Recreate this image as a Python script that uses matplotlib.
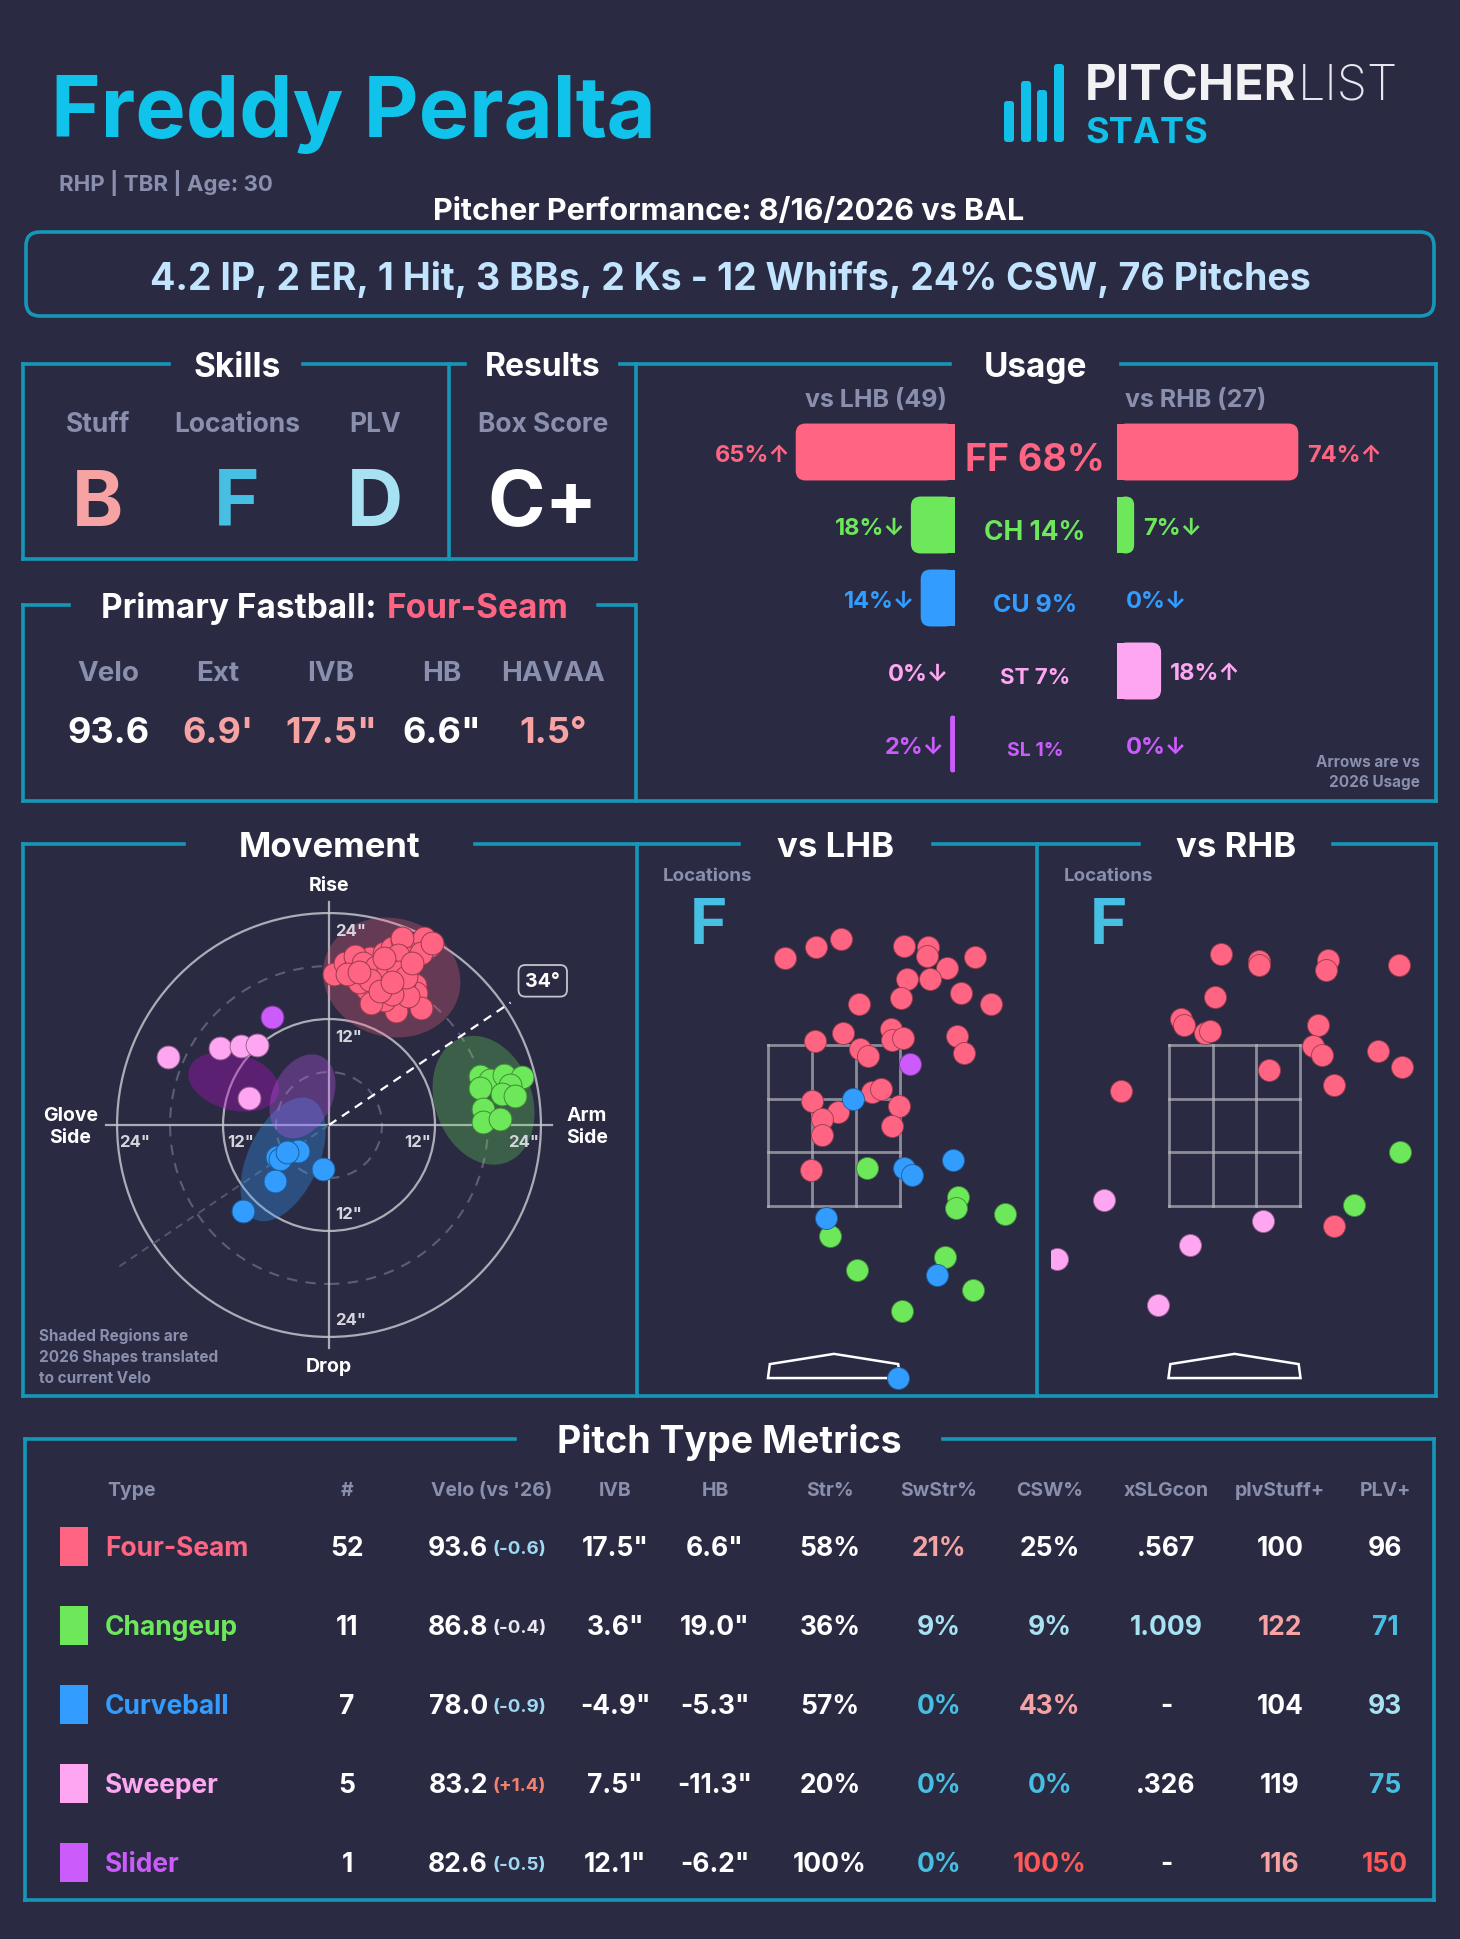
import matplotlib
matplotlib.use('Agg')
import matplotlib.pyplot as plt
from matplotlib.patches import Ellipse, FancyBboxPatch, Rectangle, Polygon, Circle
from matplotlib.colors import to_rgb
import numpy as np

W, H = 1460, 1940
BG = '#2a2b43'
FRAME = '#1697b8'
GRAY = '#8a8fad'
WHITE = '#ffffff'
PINK = '#f7a3a3'
CYAN = '#46bfe2'
LCYAN = '#a8e2f2'
RED = '#ff5858'
plt.rcParams['font.family'] = ['Inter', 'DejaVu Sans']

# ---- header / grades
player = 'Freddy Peralta'
bio = 'RHP | TBR | Age: 30'
game_title = 'Pitcher Performance: 8/16/2026 vs BAL'
game_line = '4.2 IP, 2 ER, 1 Hit, 3 BBs, 2 Ks - 12 Whiffs, 24% CSW, 76 Pitches'
skill_labels = ['Stuff', 'Locations', 'PLV']
skill_grades = ['B', 'F', 'D']
box_grade = 'C+'
fb_labels = ['Velo', 'Ext', 'IVB', 'HB', 'HAVAA']
fb_values = ['93.6', "6.9'", '17.5"', '6.6"', '1.5°']

# ---- pitch mix
pitch_codes = ['FF', 'CH', 'CU', 'ST', 'SL']
pitch_names = ['Four-Seam', 'Changeup', 'Curveball', 'Sweeper', 'Slider']
pitch_colors = ['#ff6482', '#6de85a', '#339cff', '#ffa6f2', '#cb5cfb']
usage_all = [68, 14, 9, 7, 1]
usage_lhb = [65, 18, 14, 0, 2]
usage_rhb = [74, 7, 0, 18, 0]
arrow_lhb = ['↑', '↓', '↓', '↓', '↓']
arrow_rhb = ['↑', '↓', '↓', '↑', '↓']
n_lhb, n_rhb = 49, 27
loc_grade_lhb, loc_grade_rhb = 'F', 'F'
arm_angle = 34

# ---- movement (inches): hb, ivb
ff_hb = [0.6, 1.8, 3.0, 3.4, 4.3, 4.6, 6.0, 6.2, 7.1, 8.3, 9.0, 9.9, 11.3, 10.8, 8.3, 7.1, 8.0, 9.0,
         9.7, 9.9, 10.4, 7.6, 6.2, 5.0, 4.3, 3.4, 5.5, 6.9, 8.5, 7.4, 6.0, 3.0, 2.0, 9.2, 10.4, 6.4,
         4.8, 7.8, 9.0, 11.7, 3.9, 7.1, 5.3, 6.7, 7.8, 8.7, 4.6, 5.8, 7.1, 9.4, 3.4, 6.2]
ff_ivb = [17.1, 18.3, 17.9, 16.6, 17.3, 18.9, 18.3, 19.5, 20.1, 21.0, 20.1, 19.9, 20.3, 21.2, 21.2,
          18.7, 17.9, 17.5, 15.8, 15.0, 13.3, 12.9, 14.2, 15.0, 15.4, 16.2, 16.2, 16.6, 16.2, 15.4,
          17.1, 19.1, 17.1, 18.9, 19.5, 15.4, 13.8, 19.3, 14.6, 20.6, 18.3, 14.8, 17.9, 17.7, 17.3,
          16.8, 16.4, 15.2, 16.2, 18.3, 17.3, 18.9]
ch_hb = [17.1, 18.2, 19.8, 21.9, 17.1, 20.5, 19.6, 21.1, 17.4, 17.4, 19.4]
ch_ivb = [5.5, 5.1, 5.7, 5.4, 4.2, 4.5, 3.5, 3.3, 1.8, 0.3, 0.7]
cu_hb = [-5.9, -5.5, -3.5, -0.7, -6.1, -9.7, -4.7]
cu_ivb = [-3.6, -3.8, -3.0, -5.0, -6.3, -9.7, -3.1]
st_hb = [-18.2, -12.3, -10.0, -8.1, -9.1]
st_ivb = [7.7, 8.7, 8.9, 9.1, 3.1]
sl_hb = [-6.4]
sl_ivb = [12.2]
# 2026 shapes: center hb, center ivb, width, height, angle
shape_2026 = [(7.1, 16.7, 15.7, 13.4, -15), (17.5, 2.8, 15.0, 11.0, 110),
              (-5.2, -3.9, 15.0, 8.0, 65), (-10.8, 4.9, 10.5, 6.4, -15),
              (-3.0, 3.25, 10.0, 6.8, 65)]

# ---- locations (feet): plate_x, plate_z
lhb_ff_x = [-0.53, -0.19, 0.08, 0.75, 1.01, 1.00, 1.21, 1.52, 0.78, 1.03, 1.37, 1.69, 0.72, 0.27,
            -0.20, 0.10, 0.61, 0.62, 0.74, 1.32, 1.40, 0.28, 0.37, 0.41, 0.51, 0.70, 0.62, -0.24,
            0.04, -0.13, -0.13, -0.25]
lhb_ff_z = [4.24, 4.35, 4.44, 4.37, 4.35, 4.26, 4.13, 4.25, 4.01, 4.01, 3.86, 3.74, 3.81, 3.74,
            3.34, 3.43, 3.47, 3.36, 3.38, 3.40, 3.21, 3.26, 3.18, 2.80, 2.83, 2.64, 2.43, 2.70,
            2.58, 2.50, 2.33, 1.96]
lhb_ch_x = [0.35, 1.33, 1.31, 1.84, -0.04, 0.25, 1.19, 1.49, 0.73]
lhb_ch_z = [1.98, 1.67, 1.55, 1.48, 1.25, 0.88, 1.02, 0.67, 0.44]
lhb_cu_x = [0.20, 0.75, 0.84, 1.28, -0.09, 1.11, 0.69]
lhb_cu_z = [2.72, 1.98, 1.90, 2.06, 1.44, 0.83, -0.28]
lhb_sl_x = [0.82]
lhb_sl_z = [3.10]
rhb_ff_x = [-0.15, 0.26, 0.26, 1.01, 0.98, 1.77, -0.21, -0.57, -0.54, -0.32, -0.26, 0.90, 0.84,
            0.94, 0.37, 1.54, 1.80, 1.07, -1.22, 1.07]
rhb_ff_z = [4.28, 4.20, 4.16, 4.22, 4.11, 4.16, 3.82, 3.58, 3.52, 3.43, 3.45, 3.52, 3.29, 3.19,
            3.03, 3.24, 3.06, 2.87, 2.81, 1.36]
rhb_ch_x = [1.78, 1.28]
rhb_ch_z = [2.15, 1.58]
rhb_st_x = [-1.40, 0.31, -0.48, -1.91, -0.82]
rhb_st_z = [1.63, 1.41, 1.15, 1.00, 0.51]

# ---- table
table_headers = ['Type', '#', "Velo (vs '26)", 'IVB', 'HB', 'Str%', 'SwStr%', 'CSW%',
                 'xSLGcon', 'plvStuff+', 'PLV+']
counts = [52, 11, 7, 5, 1]
velo = [93.6, 86.8, 78.0, 83.2, 82.6]
velo_diff = [-0.6, -0.4, -0.9, 1.4, -0.5]
ivb_avg = [17.5, 3.6, -4.9, 7.5, 12.1]
hb_avg = [6.6, 19.0, -5.3, -11.3, -6.2]
str_pct = [58, 36, 57, 20, 100]
swstr_pct = [21, 9, 0, 0, 0]
csw_pct = [25, 9, 43, 0, 100]
xslgcon = ['.567', '1.009', '-', '.326', '-']
plv_stuff = [100, 122, 104, 119, 116]
plv_plus = [96, 71, 93, 75, 150]

# colour styles
tone_vdiff = ['#9fd8f2', '#e8e8f0', '#9fd8f2', '#f4806f', '#9fd8f2']
tone_swstr = [PINK, LCYAN, CYAN, CYAN, CYAN]
tone_csw = [WHITE, LCYAN, PINK, CYAN, RED]
tone_xslg = [WHITE, LCYAN, WHITE, WHITE, WHITE]
tone_stuff = [WHITE, PINK, WHITE, WHITE, PINK]
tone_plv = [WHITE, CYAN, LCYAN, CYAN, RED]
center_sizes = [27, 19, 18, 16, 14]
shape_colors = ['#ff6482', '#6de85a', '#339cff', '#b010c0', '#cb5cfb']
shape_alpha = [0.28, 0.28, 0.32, 0.38, 0.3]

PX = 100 / 72

fig = plt.figure(figsize=(W / 100, H / 100), dpi=100)
fig.patch.set_facecolor(BG)
bg = fig.add_axes([0, 0, 1, 1])
bg.set_xlim(0, W)
bg.set_ylim(H, 0)
bg.axis('off')


def px_axes(x0, y0, x1, y1):
    ax = fig.add_axes([x0 / W, 1 - y1 / H, (x1 - x0) / W, (y1 - y0) / H])
    ax.set_facecolor('none')
    ax.axis('off')
    return ax


def label(x, yc, s, size, color=WHITE, weight='bold', ha='center'):
    return bg.text(x, yc + 0.36 * size * PX, s, fontsize=size, color=color,
                   fontweight=weight, ha=ha, va='baseline')


def rich(xc, yc, parts, size, weight='bold', gap=0):
    r = fig.canvas.get_renderer()
    ts = [label(0, yc, s, size, c, weight, ha='left') for s, c in parts]
    ws = [t.get_window_extent(r).width for t in ts]
    x = xc - (sum(ws) + gap * (len(ws) - 1)) / 2
    for t, w in zip(ts, ws):
        t.set_x(x)
        x += w + gap


def seg(x0, y0, x1, y1):
    bg.plot([x0, x1], [y0, y1], color=FRAME, lw=2.6, solid_capstyle='projecting')


def darker(c, f=0.6):
    return tuple(v * f for v in to_rgb(c))


def round_bars(ax, bars, inner_at_max, aspect, rad=4.0):
    # outer corners rounded, inner (centre) side square
    for p in bars:
        bb = p.get_bbox()
        x0, x1, y0, y1 = bb.xmin, bb.xmax, bb.ymin, bb.ymax
        w = x1 - x0
        if w <= 0:
            continue
        p.set_visible(False)
        rr = min(rad, w / 2)
        c = p.get_facecolor()
        ax.add_patch(FancyBboxPatch((x0, y0), w, y1 - y0, mutation_aspect=aspect,
                                    boxstyle=f'round,pad=0,rounding_size={rr}', fc=c, lw=0))
        sx = x1 - rr if inner_at_max else x0
        ax.add_patch(Rectangle((sx, y0), rr, y1 - y0, fc=c, lw=0))


# ---------------- header
label(51, 106, player, 61, '#0fc3ea', ha='left')
for bx, top in [(1004, 102), (1021, 82), (1037, 91), (1054, 65)]:
    bg.add_patch(FancyBboxPatch((bx, top), 10, 143 - top, boxstyle='round,pad=0,rounding_size=3',
                                color='#10c0e8', lw=0))
r = fig.canvas.get_renderer()
t1 = label(1085, 82, 'PITCHER', 35, '#f2f2f5', 'bold', ha='left')
label(1085 + t1.get_window_extent(r).width + 1, 82, 'LIST', 35, '#e6e6ec', 'light', ha='left')
label(1085, 130, 'STATS', 26, '#10c0e8', 'bold', ha='left')
label(59, 183, bio, 16, GRAY, 'bold', ha='left')
label(729, 209, game_title, 22, WHITE)
bg.add_patch(FancyBboxPatch((26, 233), 1408, 84, boxstyle='round,pad=0,rounding_size=14',
                            fc='none', ec=FRAME, lw=2.6))
label(730, 277, game_line, 27, '#c3e4ff')

# ---------------- skills / results / fastball frames
seg(23, 365, 169, 365); seg(303, 365, 465, 365); seg(620, 365, 635, 365)
seg(23, 365, 23, 560); seg(449, 365, 449, 560); seg(23, 560, 635, 560)
seg(636, 365, 636, 560); seg(636, 606, 636, 802)
seg(23, 606, 69, 606); seg(598, 606, 635, 606)
seg(23, 606, 23, 802); seg(23, 802, 1436, 802)
seg(636, 365, 950, 365); seg(1121, 365, 1436, 365); seg(1436, 365, 1436, 802)

label(237, 365, 'Skills', 24)
label(543, 365, 'Results', 23)
grade_colors = [PINK, CYAN, LCYAN]
for x, lab, g, c in zip([98, 237, 375], skill_labels, skill_grades, grade_colors):
    label(x, 423, lab, 19, GRAY)
    label(x, 498, g, 56, c)
label(543, 423, 'Box Score', 19, GRAY)
label(543, 498, box_grade, 56, WHITE)

rich(335, 606, [('Primary Fastball:', WHITE), ('Four-Seam', pitch_colors[0])], 24, gap=10)
fb_colors = [WHITE, PINK, PINK, WHITE, PINK]
for x, lab, v, c in zip([108, 218, 331, 442, 553], fb_labels, fb_values, fb_colors):
    label(x, 671, lab, 20, GRAY)
    label(x, 730, v, 26, c)

# ---------------- usage
label(1035, 365, 'Usage', 24)
label(876, 398, f'vs LHB ({n_lhb})', 18, GRAY)
label(1196, 398, f'vs RHB ({n_rhb})', 18, GRAY)
rows = np.arange(len(pitch_codes))
ul = px_axes(955 - 245, 416.5, 955, 781.5)
ul.set_xlim(-100, 0)
ul.set_ylim(4.5, -0.5)
ur = px_axes(1117, 416.5, 1362, 781.5)
ur.set_xlim(0, 100)
ur.set_ylim(4.5, -0.5)
bars_l = ul.barh(rows, [-v for v in usage_lhb], height=0.78, color=pitch_colors)
bars_r = ur.barh(rows, usage_rhb, height=0.78, color=pitch_colors)
asp = 2.45 / 73.0
round_bars(ul, bars_l, True, asp)
round_bars(ur, bars_r, False, asp)
for i, code in enumerate(pitch_codes):
    c = pitch_colors[i]
    ul.text(-usage_lhb[i] - 2.2, i, f'{usage_lhb[i]}%{arrow_lhb[i]}', ha='right',
            va='center_baseline', fontsize=17, color=c, fontweight='bold')
    ur.text(usage_rhb[i] + 3.5, i, f'{usage_rhb[i]}%{arrow_rhb[i]}', ha='left',
            va='center_baseline', fontsize=17, color=c, fontweight='bold')
    ur.text(-33.5, i + 0.05, f'{code} {usage_all[i]}%', ha='center', va='center_baseline',
            fontsize=center_sizes[i], color=c, fontweight='bold')
label(1420, 762, 'Arrows are vs', 11, GRAY, ha='right')
label(1420, 782, '2026 Usage', 11, GRAY, ha='right')

# ---------------- movement
seg(23, 845, 184, 845); seg(475, 845, 637, 845)
seg(23, 845, 23, 1397); seg(637, 845, 637, 1397)
seg(638, 845, 739, 845); seg(933, 845, 1035, 845)
seg(1037, 845, 1037, 1397)
seg(1038, 845, 1139, 845); seg(1333, 845, 1436, 845)
seg(1436, 845, 1436, 1397); seg(23, 1397, 1436, 1397)
label(330, 845, 'Movement', 25)
label(836, 845, 'vs LHB', 25)
label(1236, 845, 'vs RHB', 25)

cx, cy, k = 329, 1126, 8.83
mv = px_axes(23, 845, 637, 1397)
mv.set_xlim((23 - cx) / k, (637 - cx) / k)
mv.set_ylim((cy - 1397) / k, (cy - 845) / k)
for (ex, ey, ew, eh, ea), c, a in zip(shape_2026, shape_colors, shape_alpha):
    mv.add_patch(Ellipse((ex, ey), ew, eh, angle=ea, fc=c, alpha=a, lw=0, zorder=2.5))
for rr in (6, 18):
    mv.add_patch(Circle((0, 0), rr, fill=False, ec='#5d5e74', lw=1.5, ls=(0, (5, 4)), zorder=2))
for rr in (12, 24):
    mv.add_patch(Circle((0, 0), rr, fill=False, ec='#c4c4cc', lw=1.6, alpha=0.85, zorder=2))
mv.plot([-25.3, 25.3], [0, 0], color='#c4c4cc', lw=1.6, alpha=0.85, zorder=2)
mv.plot([0, 0], [-25.3, 25.3], color='#c4c4cc', lw=1.6, alpha=0.85, zorder=2)
for rr in (12, 24):
    kw = dict(fontsize=12, color='#d5d5dd', fontweight='bold', zorder=3)
    mv.text(-rr + 2, -1.9, f'{rr}"', ha='center', va='center', **kw)
    mv.text(rr - 2, -1.9, f'{rr}"', ha='center', va='center', **kw)
    mv.text(0.7, rr - 2, f'{rr}"', ha='left', va='center', **kw)
    mv.text(0.7, -rr + 2, f'{rr}"', ha='left', va='center', **kw)
mv.text(0, 27.2, 'Rise', ha='center', va='center', fontsize=14, color=WHITE, fontweight='bold')
mv.text(0, -27.3, 'Drop', ha='center', va='center', fontsize=14, color=WHITE, fontweight='bold')
mv.text(-29.3, -0.1, 'Glove\nSide', ha='center', va='center', fontsize=14, color=WHITE,
        fontweight='bold', linespacing=1.3)
mv.text(29.2, -0.1, 'Arm\nSide', ha='center', va='center', fontsize=14, color=WHITE,
        fontweight='bold', linespacing=1.3)
ang = np.radians(arm_angle)
mv.plot([0, 24.8 * np.cos(ang)], [0, 24.8 * np.sin(ang)], color=WHITE, lw=1.6,
        ls=(0, (4, 3)), zorder=3)
mv.plot([0, -29 * np.cos(ang)], [0, -29 * np.sin(ang)], color='#55566c', lw=1.4,
        ls=(0, (4, 3)), zorder=2)
mv.text(29.2 * np.cos(ang), 29.2 * np.sin(ang), f'{arm_angle}°', ha='center', va='center',
        fontsize=14, color=WHITE, fontweight='bold', zorder=5,
        bbox=dict(boxstyle='round,pad=0.35', fc=BG, ec='#c4c4cc', lw=1.3))
mv_sets = [(ff_hb, ff_ivb), (ch_hb, ch_ivb), (cu_hb, cu_ivb), (st_hb, st_ivb), (sl_hb, sl_ivb)]
for (xs, ys), c in zip(mv_sets, pitch_colors):
    mv.scatter(xs, ys, s=270, color=c, edgecolors=[darker(c)], linewidths=0.7, zorder=4)
label(39, 1336, 'Shaded Regions are', 11, GRAY, ha='left')
label(39, 1357, '2026 Shapes translated', 11, GRAY, ha='left')
label(39, 1378, 'to current Velo', 11, GRAY, ha='left')


# ---------------- locations
def loc_panel(xc, grade, sets):
    label(xc - 126, 874, 'Locations', 13.5, GRAY)
    label(xc - 126, 921, grade, 46, CYAN)
    ax = px_axes(xc - 1.97 * 93, 845, xc + 2.17 * 93, 1397)
    ax.set_xlim(-1.97, 2.17)
    ax.set_ylim(-0.473, 5.462)
    zx = np.linspace(-0.708, 0.708, 4)
    zz = np.linspace(1.57, 3.30, 4)
    for v in zx:
        ax.plot([v, v], [zz[0], zz[-1]], color='#b5b5bd', alpha=0.7, lw=2, zorder=2)
    for v in zz:
        ax.plot([zx[0], zx[-1]], [v, v], color='#b5b5bd', alpha=0.7, lw=2, zorder=2)
    ax.add_patch(Polygon([(-0.71, -0.28), (-0.69, -0.13), (0, -0.02), (0.69, -0.13), (0.71, -0.28)],
                         closed=True, fill=False, ec=WHITE, lw=1.8, zorder=2))
    for (xs, zs), c in sets:
        ax.scatter(xs, zs, s=250, color=c, edgecolors=[darker(c)], linewidths=0.6, zorder=3)


loc_panel(834, loc_grade_lhb, [((lhb_ff_x, lhb_ff_z), pitch_colors[0]),
                               ((lhb_ch_x, lhb_ch_z), pitch_colors[1]),
                               ((lhb_cu_x, lhb_cu_z), pitch_colors[2]),
                               ((lhb_sl_x, lhb_sl_z), pitch_colors[4])])
loc_panel(1234.5, loc_grade_rhb, [((rhb_ff_x, rhb_ff_z), pitch_colors[0]),
                                  ((rhb_ch_x, rhb_ch_z), pitch_colors[1]),
                                  ((rhb_st_x, rhb_st_z), pitch_colors[3])])

# ---------------- table
seg(25, 1440, 515, 1440); seg(943, 1440, 1434, 1440)
seg(25, 1440, 25, 1901); seg(1434, 1440, 1434, 1901); seg(25, 1901, 1434, 1901)
label(729, 1440, 'Pitch Type Metrics', 27)
col_x = [107, 347, 492, 615, 715, 830, 939, 1050, 1166, 1280, 1385]
for j, (x, hname) in enumerate(zip(col_x, table_headers)):
    label(x, 1489, hname, 14, GRAY, ha='left' if j == 0 else 'center')
for i, name in enumerate(pitch_names):
    y = 1547 + 79 * i
    c = pitch_colors[i]
    bg.add_patch(Rectangle((60, y - 19.5), 28, 39, fc=c, ec='none'))
    label(105, y, name, 19, c, ha='left')
    label(col_x[1], y, str(counts[i]), 19)
    label(488, y, f'{velo[i]:.1f}', 19, ha='right')
    label(492, y, f'({velo_diff[i]:+.1f})', 13.5, tone_vdiff[i], ha='left')
    label(col_x[3], y, f'{ivb_avg[i]:.1f}"', 19)
    label(col_x[4], y, f'{hb_avg[i]:.1f}"', 19)
    label(col_x[5], y, f'{str_pct[i]}%', 19)
    label(col_x[6], y, f'{swstr_pct[i]}%', 19, tone_swstr[i])
    label(col_x[7], y, f'{csw_pct[i]}%', 19, tone_csw[i])
    label(col_x[8], y, xslgcon[i], 19, tone_xslg[i])
    label(col_x[9], y, str(plv_stuff[i]), 19, tone_stuff[i])
    label(col_x[10], y, str(plv_plus[i]), 19, tone_plv[i])

fig.savefig('out.png', dpi=100, facecolor=BG)
